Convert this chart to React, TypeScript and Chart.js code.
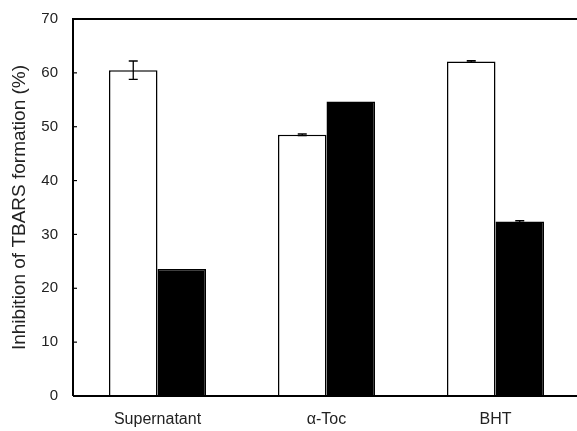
import React, { useEffect, useRef } from "react";
import { Chart, registerables } from "chart.js";

Chart.register(...registerables);

const categories = ["Supernatant", "α-Toc", "BHT"];
const whiteValues = [60.5, 48.5, 62.1];
const blackValues = [23.6, 54.7, 32.4];
const whiteErrors = [1.7, 0.15, 0.15];
const blackErrors = [0, 0, 0.15];
const yTicks = [0, 10, 20, 30, 40, 50, 60, 70];
const yTitle = "Inhibition of TBARS formation (%)";

const FONT = "'Liberation Sans', Arial, Helvetica, sans-serif";

const axesPlugin = {
  id: "framedAxes",
  afterDatasetsDraw(chart: any) {
    const { ctx, chartArea, scales } = chart;
    const y = scales.y;
    const errs = [whiteErrors, blackErrors];
    ctx.save();
    // error bars
    ctx.strokeStyle = "#000";
    ctx.lineWidth = 1.3;
    chart.data.datasets.forEach((ds: any, di: number) => {
      const meta = chart.getDatasetMeta(di);
      meta.data.forEach((el: any, i: number) => {
        const e = errs[di][i];
        if (!e) return;
        const v = ds.data[i];
        const yt = y.getPixelForValue(v + e);
        const yb = y.getPixelForValue(v - e);
        const x = el.x;
        ctx.beginPath();
        ctx.moveTo(x, yt);
        ctx.lineTo(x, yb);
        ctx.moveTo(x - 4.5, yt);
        ctx.lineTo(x + 4.5, yt);
        ctx.moveTo(x - 4.5, yb);
        ctx.lineTo(x + 4.5, yb);
        ctx.stroke();
      });
    });
    // frame
    ctx.strokeStyle = "#000";
    ctx.lineWidth = 2;
    ctx.beginPath();
    ctx.moveTo(chartArea.left, chartArea.bottom);
    ctx.lineTo(chartArea.left, chartArea.top);
    ctx.lineTo(chartArea.right, chartArea.top);
    ctx.lineTo(chartArea.right, chartArea.bottom);
    ctx.lineTo(chartArea.left, chartArea.bottom);
    ctx.stroke();
    // inward y ticks
    ctx.lineWidth = 1.2;
    yTicks.forEach((t) => {
      const py = y.getPixelForValue(t);
      ctx.beginPath();
      ctx.moveTo(chartArea.left, py);
      ctx.lineTo(chartArea.left + 4, py);
      ctx.stroke();
    });
    ctx.restore();
  },
};

export default function App() {
  const ref = useRef<HTMLCanvasElement | null>(null);

  useEffect(() => {
    if (!ref.current) return;
    const chart = new Chart(ref.current, {
      type: "bar",
      data: {
        labels: categories,
        datasets: [
          {
            data: whiteValues,
            backgroundColor: "#ffffff",
            borderColor: "#000000",
            borderWidth: 1.5,
            barPercentage: 1,
            categoryPercentage: 0.574,
          },
          {
            data: blackValues,
            backgroundColor: "#000000",
            borderColor: "#000000",
            borderWidth: 1.5,
            barPercentage: 1,
            categoryPercentage: 0.574,
          },
        ],
      },
      options: {
        animation: false,
        responsive: false,
        devicePixelRatio: 1,
        layout: { padding: { left: 0, top: 19, right: 20, bottom: 0 } },
        plugins: {
          legend: { display: false },
          tooltip: { enabled: false },
        },
        scales: {
          x: {
            grid: { display: false, drawTicks: false },
            border: { display: false },
            ticks: {
              color: "#222",
              font: { family: FONT, size: 16 },
              padding: 14,
              maxRotation: 0,
              autoSkip: false,
            },
            afterFit(scale: any) {
              scale.height = 35;
              scale.paddingLeft = 0;
              scale.paddingRight = 0;
            },
          },
          y: {
            min: 0,
            max: 70,
            grid: { display: false, drawTicks: false },
            border: { display: false },
            ticks: {
              stepSize: 10,
              color: "#222",
              font: { family: FONT, size: 15 },
              padding: 15,
            },
            title: {
              display: true,
              text: yTitle,
              color: "#222",
              font: { family: FONT, size: 19, weight: "normal" },
              padding: { top: 8, bottom: 0 },
            },
            afterFit(scale: any) {
              scale.width = 73;
              scale.paddingTop = 0;
              scale.paddingBottom = 0;
            },
          },
        },
      },
      plugins: [axesPlugin],
    });
    return () => chart.destroy();
  }, []);

  return (
    <div
      style={{
        position: "fixed",
        left: 0,
        top: 0,
        width: 577,
        height: 431,
        overflow: "hidden",
        background: "#fff",
      }}
    >
      <canvas ref={ref} width={600} height={431} style={{ display: "block" }} />
    </div>
  );
}
